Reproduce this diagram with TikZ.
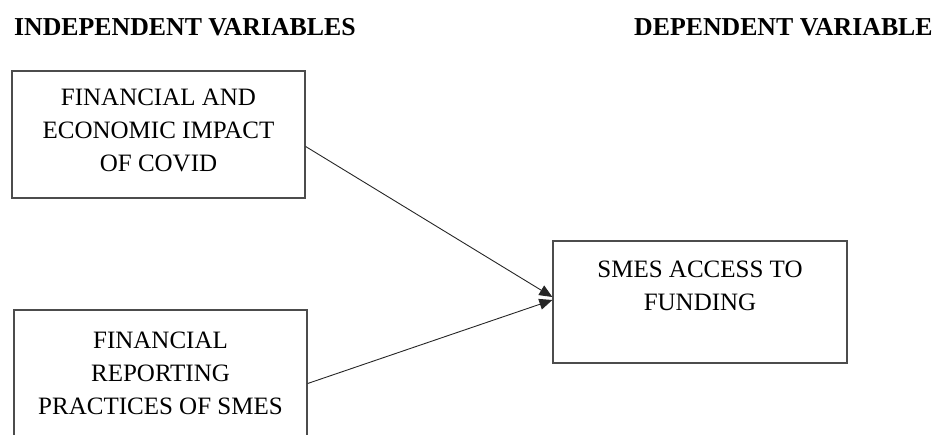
\documentclass[tikz,border=0pt]{standalone}
\usepackage{fontspec}
\setmainfont{Liberation Serif}
\usepackage{tikz}
\usetikzlibrary{arrows.meta, positioning, calc}

\begin{document}
\begin{tikzpicture}[
      x=1pt, y=-1pt,
      font=\fontsize{25}{33}\selectfont,
      var/.style={draw=black!70, line width=1.3pt, rectangle, align=center,
        minimum width=293pt, minimum height=127pt, inner sep=0pt},
      head/.style={font=\fontsize{25.8}{30}\selectfont\bfseries, anchor=west, inner sep=0pt},
      rel/.style={-{Triangle[length=13pt, width=11pt]}, line width=0.9pt, black!85}]
    \useasboundingbox (0,0) rectangle (939,434);
    \node[head] (indep) at (14,27) {INDEPENDENT VARIABLES};
    \node[head] (dep) at (634,27) {DEPENDENT VARIABLE};
    \node[var] (covid) at (158.5,134.5) {FINANCIAL AND\\ECONOMIC IMPACT\\OF COVID\\[-24pt]};
    \node[var] (report) at (160.5,373.5) {FINANCIAL\\REPORTING\\PRACTICES OF SMES};
    \node[var, minimum width=294pt, minimum height=122pt] (funding) at (700,302) {SMES ACCESS TO\\FUNDING\\ };
    \draw[rel] ($(covid.east)+(0,12)$) -- ($(funding.west)+(0,-5)$);
    \draw[rel] ($(report.east)+(0,10)$) -- ($(funding.west)+(0,-2)$);
  \end{tikzpicture}
\end{document}
